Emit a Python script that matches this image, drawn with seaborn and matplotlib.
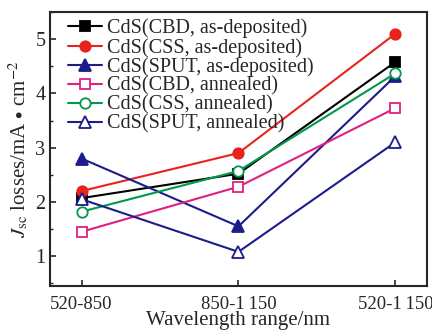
import matplotlib
matplotlib.use("Agg")
import matplotlib.pyplot as plt
from matplotlib.ticker import MultipleLocator
import seaborn as sns
import pandas as pd

# Wavelength ranges (x categories)
ranges = ["520-850", "850-1\u2009150", "520-1\u2009150"]

# Jsc losses per sample
cbd_dep = [2.07, 2.52, 4.58]
css_dep = [2.20, 2.90, 5.10]
sput_dep = [2.80, 1.55, 4.32]
cbd_ann = [1.45, 2.28, 3.73]
css_ann = [1.82, 2.57, 4.37]
sput_ann = [2.05, 1.08, 3.10]

labels = ["CdS(CBD, as-deposited)", "CdS(CSS, as-deposited)", "CdS(SPUT, as-deposited)",
          "CdS(CBD, annealed)", "CdS(CSS, annealed)", "CdS(SPUT, annealed)"]
series = [cbd_dep, css_dep, sput_dep, cbd_ann, css_ann, sput_ann]

sns.set_style("ticks")
plt.rcParams['font.family'] = ['Liberation Serif', 'DejaVu Serif']
plt.rcParams['mathtext.fontset'] = 'stix'

colors = ["#000000", "#e8231e", "#1c1c8a", "#e0207f", "#00994c", "#1c1c8a"]
markers = ["s", "o", "^", "s", "o", "^"]
filled = [True, True, True, False, False, False]

fig = plt.figure(figsize=(4.32, 3.33), dpi=100)
ax = fig.add_axes([0.116, 0.141, 0.872, 0.823])

for lab, vals, c, m, f in zip(labels, series, colors, markers, filled):
    df = pd.DataFrame({"range": [0, 1, 2], "loss": vals})
    sns.lineplot(data=df, x="range", y="loss", ax=ax, color=c, marker=m,
                 markersize=7.5 if m != "^" else 8.5, markerfacecolor=c if f else "white",
                 markeredgecolor=c, markeredgewidth=1.3, linewidth=1.5, label=lab)

ax.set_xlim(-0.2, 2.2)
ax.set_ylim(0.45, 5.5)
ax.set_xticks([0, 1, 2])
ax.set_xticklabels(ranges)
ax.set_yticks([1, 2, 3, 4, 5])
ax.yaxis.set_minor_locator(MultipleLocator(0.5))
ax.tick_params(direction="in", labelsize=14.5, width=1.2, length=4, top=False, right=False)
ax.tick_params(axis="x", labelsize=13.5, pad=7)
ax.tick_params(axis="y", which="minor", direction="in", length=2.5, width=1.0)
for s in ax.spines.values():
    s.set_linewidth(1.5)
ax.set_xlabel("Wavelength range/nm", fontsize=15, labelpad=-1)
ax.set_ylabel(r"$J_{\rm sc}$ losses/mA $\bullet$ cm$^{-2}$", fontsize=15, labelpad=3)

ax.legend(loc="upper left", frameon=False, fontsize=14.5, handlelength=1.7,
          labelspacing=-0.02, borderaxespad=0.0, handletextpad=0.25,
          bbox_to_anchor=(0.026, 1.005))

fig.savefig("out.png", dpi=100)
